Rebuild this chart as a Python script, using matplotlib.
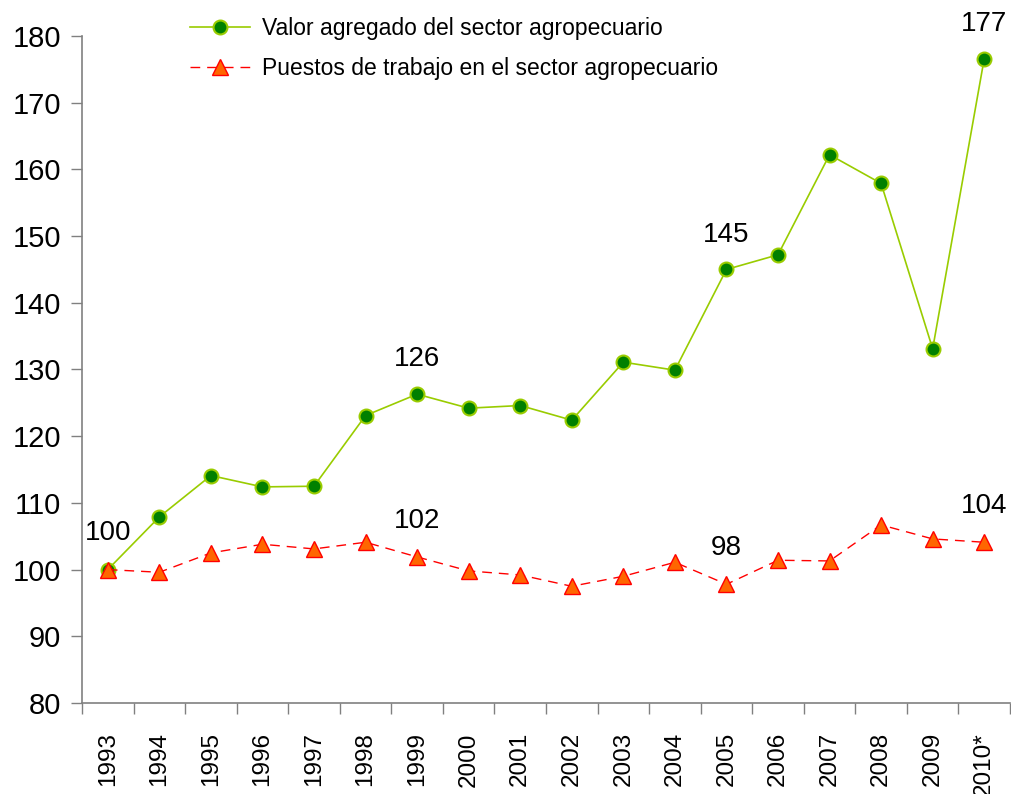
import numpy as np
import matplotlib.pyplot as plt

plt.rcParams['font.family'] = ['Liberation Sans', 'DejaVu Sans']

# datos (indice 1993 = 100)
anios = ["1993", "1994", "1995", "1996", "1997", "1998", "1999", "2000", "2001",
         "2002", "2003", "2004", "2005", "2006", "2007", "2008", "2009", "2010*"]
valor_agregado = [100.0, 107.9, 114.1, 112.4, 112.5, 123.1, 126.3, 124.2, 124.6,
                  122.4, 131.1, 129.9, 145.0, 147.2, 162.2, 157.9, 133.1, 176.6]
puestos_trabajo = [100.0, 99.6, 102.5, 103.8, 103.1, 104.1, 101.9, 99.8, 99.2,
                   97.5, 99.0, 101.1, 97.8, 101.4, 101.3, 106.7, 104.6, 104.1]

# etiquetas de datos que se muestran
idx_verde = [6, 12, 17]
idx_rojo = [0, 6, 12, 17]

fig = plt.figure(figsize=(10.11, 7.94), dpi=100)
ax = fig.add_axes([82/1011, 91/794, 928/1011, 667/794])

x = np.arange(len(anios))
ax.plot(x, valor_agregado, color="#99CC00", lw=1.2, marker="o", ms=10,
        mfc="#008000", mec="#99CC00", mew=1.5, label="Valor agregado del sector agropecuario")
ax.plot(x, puestos_trabajo, color="#FF0000", lw=1, dashes=(7, 5), marker="^", ms=11,
        mfc="#FF6600", mec="#FF0000", mew=1, label="Puestos de trabajo en el sector agropecuario")

for i in idx_verde:
    ax.annotate(f"{valor_agregado[i]:.0f}", (x[i], valor_agregado[i]), xytext=(0, 25),
                textcoords="offset points", ha="center", va="center", fontsize=20)
for i in idx_rojo:
    ax.annotate(f"{puestos_trabajo[i]:.0f}", (x[i], puestos_trabajo[i]), xytext=(0, 26),
                textcoords="offset points", ha="center", va="center", fontsize=20)

ax.set_xlim(-0.5, len(anios) - 0.5)
ax.set_ylim(80, 180)
ax.set_yticks(np.arange(80, 181, 10))
ax.set_xticks(x)
ax.set_xticklabels(anios, rotation=90, fontsize=17.5)
ax.set_xticks(np.arange(-0.5, len(anios), 1), minor=True)
ax.tick_params(axis="x", which="major", length=0, pad=21)
ax.tick_params(axis="x", which="minor", length=8, width=1, color="#808080", direction="out")
ax.tick_params(axis="y", length=8, width=1, color="#808080", pad=7, labelsize=21)

for s in ["top", "right"]:
    ax.spines[s].set_visible(False)
for s in ["left", "bottom"]:
    ax.spines[s].set_color("#808080")
    ax.spines[s].set_linewidth(1.2)

fig.legend(loc="upper left", bbox_to_anchor=(190/1011, 1 - 17/794), frameon=False,
           fontsize=16.5, handlelength=2.6, handletextpad=0.55, labelspacing=0.75,
           borderpad=0, borderaxespad=0)

plt.savefig("out.png", dpi=100)
